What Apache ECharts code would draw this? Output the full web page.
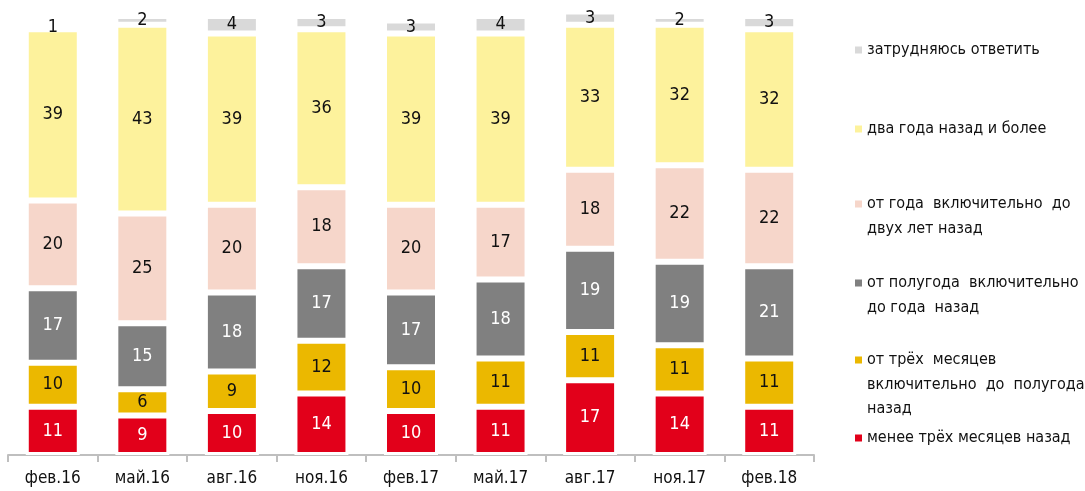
<!DOCTYPE html>
<html>
<head>
<meta charset="utf-8">
<script src="https://cdn.jsdelivr.net/npm/echarts@6/dist/echarts.min.js"></script>
<style>
  html, body { margin: 0; padding: 0; background: #fff; }
  #chart { width: 1085px; height: 491px; }
</style>
</head>
<body>
<div id="chart"></div>
<script>
// Survey waves
const categories = ['фев.16', 'май.16', 'авг.16', 'ноя.16', 'фев.17', 'май.17', 'авг.17', 'ноя.17', 'фев.18'];

// Shares of respondents, %, bottom to top of each stack
const lessThan3Months   = [11, 9, 10, 14, 10, 11, 17, 14, 11];
const from3MonthsToHalf = [10, 6, 9, 12, 10, 11, 11, 11, 11];
const fromHalfToYear    = [17, 15, 18, 17, 17, 18, 19, 19, 21];
const fromYearToTwo     = [20, 25, 20, 18, 20, 17, 18, 22, 22];
const twoYearsAndMore   = [39, 43, 39, 36, 39, 39, 33, 32, 32];
const hardToSay         = [1, 2, 4, 3, 3, 4, 3, 2, 3];

const FONT = "'DejaVu Sans Condensed', 'DejaVu Sans', sans-serif";

const seriesDefs = [
  { name: 'менее трёх месяцев назад', data: lessThan3Months, color: '#E2001A', text: '#ffffff' },
  { name: 'от трёх  месяцев\nвключительно  до  полугода\nназад', data: from3MonthsToHalf, color: '#EBB800', text: '#111111' },
  { name: 'от полугода  включительно\nдо года  назад', data: fromHalfToYear, color: '#808080', text: '#ffffff' },
  { name: 'от года  включительно  до\nдвух лет назад', data: fromYearToTwo, color: '#F6D6CA', text: '#111111' },
  { name: 'два года назад и более', data: twoYearsAndMore, color: '#FDF29C', text: '#111111' },
  { name: 'затрудняюсь ответить', data: hardToSay, color: '#D9D9D9', text: '#111111' }
];

const series = seriesDefs.map(s => ({
  name: s.name,
  type: 'bar',
  stack: 'total',
  barWidth: 54,
  clip: false,
  data: s.data,
  itemStyle: { color: s.color, borderColor: '#ffffff', borderWidth: 3 },
  label: {
    show: true,
    position: 'inside',
    color: s.text,
    fontFamily: FONT,
    fontSize: 18
  },
  emphasis: { disabled: true }
}));

// One legend block per series so each entry can sit at its own height.
// The marker is a small square at the top of a tall icon box, so it lines
// up with the first line of a multi-line caption.
const LINE = 24.5;
const SQ = 7;
const legendCenters = [438, 360, 283, 204, 129, 50];
const legends = seriesDefs.map((s, i) => {
  const n = s.name.split('\n').length;
  const h = SQ + (n - 1) * LINE;
  const icon = n === 1
    ? 'rect'
    : 'path://M0,0h' + SQ + 'v' + SQ + 'h-' + SQ + 'z M0,' + (h - 0.02) + 'h0.02v0.02h-0.02z';
  return {
    data: [s.name],
    orient: 'vertical',
    left: 855,
    top: legendCenters[i] - LINE / 2,
    padding: 0,
    icon: icon,
    itemWidth: SQ,
    itemHeight: h,
    itemStyle: { borderWidth: 0 },
    selectedMode: false,
    textStyle: {
      fontFamily: FONT,
      fontSize: 16,
      color: '#111111',
      lineHeight: LINE
    }
  };
});

const chart = echarts.init(document.getElementById('chart'), null, { renderer: 'canvas' });
chart.setOption({
  animation: false,
  backgroundColor: '#ffffff',
  grid: { left: 8, right: 271, top: 16, bottom: 36, containLabel: false },
  legend: legends,
  xAxis: {
    type: 'category',
    data: categories,
    axisLine: { lineStyle: { color: '#BFBFBF', width: 2 } },
    axisTick: { show: true, length: 7, lineStyle: { color: '#BFBFBF', width: 2 } },
    axisLabel: { color: '#111111', fontFamily: FONT, fontSize: 17, margin: 15 }
  },
  yAxis: {
    type: 'value',
    min: 0,
    max: 100,
    show: false,
    splitLine: { show: false }
  },
  series: series
});
</script>
</body>
</html>
